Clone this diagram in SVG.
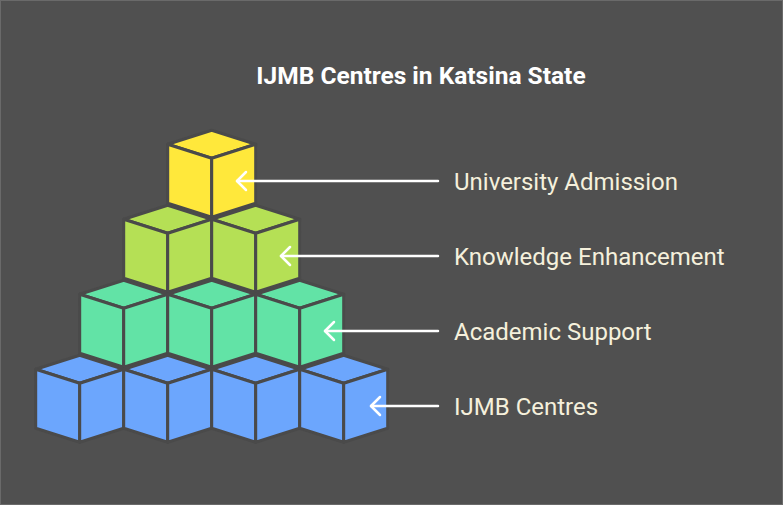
<svg xmlns="http://www.w3.org/2000/svg" width="783" height="505" viewBox="0 0 783 505">
<defs>
<style>
.f{stroke:#4a4a4a;stroke-width:3;stroke-linejoin:round}
.y{fill:#FFE83B}.g{fill:#B5E055}.t{fill:#62E3A6}.b{fill:#6CA6FD}
.lbl{font-family:Roboto,"Liberation Sans",sans-serif;font-size:24px;fill:#F5F0DC}
.c line,.c path{stroke:#fff;stroke-width:2.5;fill:none;stroke-linecap:round;stroke-linejoin:round}
</style>
<g id="cube">
<path class="f" d="M0,-28 L44,-14 L0,0 L-44,-14 Z"/>
<path class="f" d="M-44,-14 L0,0 L0,59 L-44,45 Z"/>
<path class="f" d="M0,0 L44,-14 L44,45 L0,59 Z"/>
</g>
</defs>
<rect x="0.5" y="0.5" width="782" height="504" fill="#505050" stroke="#6a6a6a"/>
<text x="421" y="84" text-anchor="middle" font-family="Roboto,'Liberation Sans',sans-serif" font-weight="bold" font-size="24.5" fill="#ffffff">IJMB Centres in Katsina State</text>
<g id="level1" class="y"><use href="#cube" x="211.7" y="158.3"/></g>
<g id="level2" class="g"><use href="#cube" x="167.7" y="233.3"/><use href="#cube" x="255.7" y="233.3"/></g>
<g id="level3" class="t"><use href="#cube" x="123.7" y="308.3"/><use href="#cube" x="211.7" y="308.3"/><use href="#cube" x="299.7" y="308.3"/></g>
<g id="level4" class="b"><use href="#cube" x="79.7" y="383.3"/><use href="#cube" x="167.7" y="383.3"/><use href="#cube" x="255.7" y="383.3"/><use href="#cube" x="343.7" y="383.3"/></g>
<g id="connectors" class="c">
<line x1="438" y1="181" x2="237" y2="181"/><path d="M246,172 L237,181 L246,190"/>
<line x1="438" y1="256" x2="281" y2="256"/><path d="M290,247 L281,256 L290,265"/>
<line x1="438" y1="331" x2="325" y2="331"/><path d="M334,322 L325,331 L334,340"/>
<line x1="438" y1="406" x2="371" y2="406"/><path d="M380,397 L371,406 L380,415"/>
</g>
<g id="labels">
<text class="lbl" x="454" y="190">University Admission</text>
<text class="lbl" x="454" y="265">Knowledge Enhancement</text>
<text class="lbl" x="454" y="340">Academic Support</text>
<text class="lbl" x="454" y="415">IJMB Centres</text>
</g>
</svg>
